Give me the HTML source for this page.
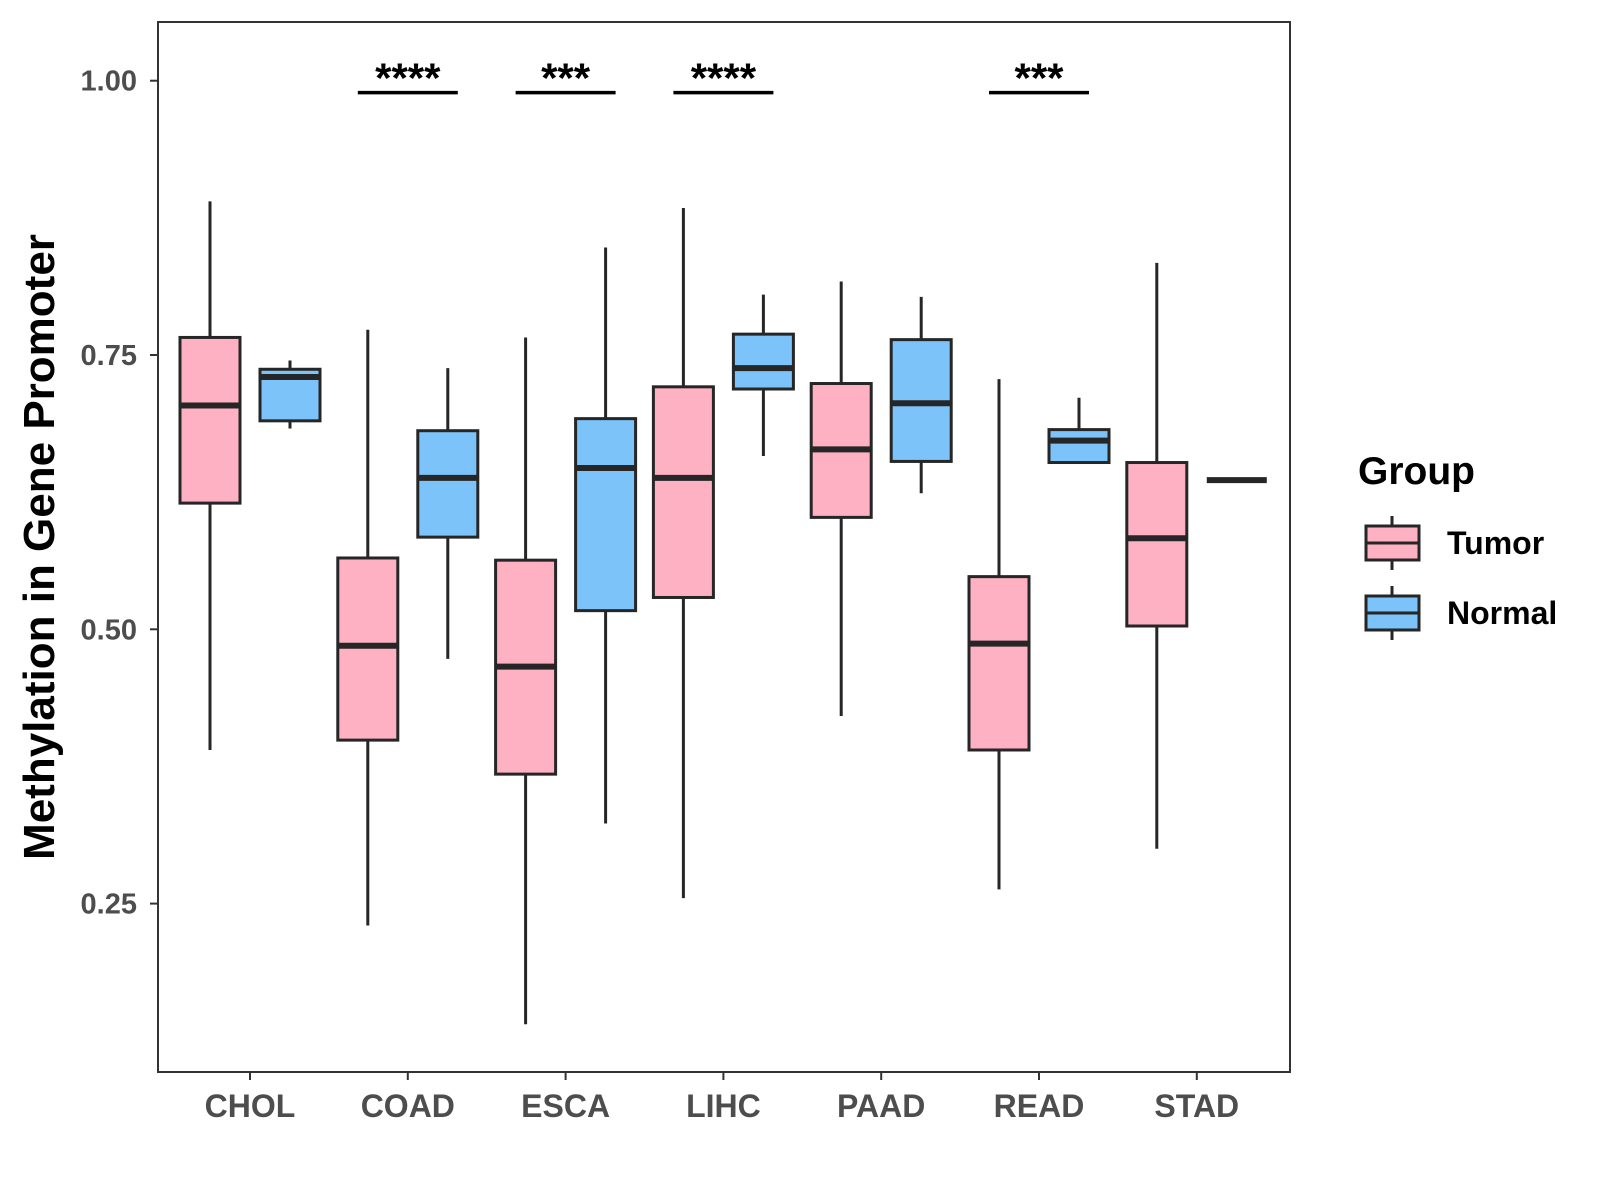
<!DOCTYPE html>
<html><head><meta charset="utf-8"><style>
html,body{margin:0;padding:0;background:#fff;width:1600px;height:1200px;overflow:hidden}
svg{display:block}
text{font-family:"Liberation Sans",Arial,sans-serif;font-weight:bold}
</style></head><body>
<svg id="chart" width="1600" height="1200" xmlns="http://www.w3.org/2000/svg"></svg>
<script>
const categories=["CHOL","COAD","ESCA","LIHC","PAAD","READ","STAD"];
// [lower whisker, Q1, median, Q3, upper whisker]
const tumorStats=[[0.390,0.615,0.704,0.766,0.890],[0.230,0.399,0.485,0.565,0.773],[0.140,0.368,0.466,0.563,0.766],[0.255,0.529,0.638,0.721,0.884],[0.421,0.602,0.664,0.724,0.817],[0.263,0.390,0.487,0.548,0.728],[0.300,0.503,0.583,0.652,0.834]];
const normalStats=[[0.683,0.690,0.730,0.737,0.745],[0.473,0.584,0.638,0.681,0.738],[0.323,0.517,0.647,0.692,0.848],[0.658,0.719,0.738,0.769,0.805],[0.624,0.653,0.706,0.764,0.803],[0.652,0.652,0.672,0.682,0.711],[0.636,0.636,0.636,0.636,0.636]];
const yTicks=[0.25,0.50,0.75,1.00];
const yTickLabels=["0.25","0.50","0.75","1.00"];
const sigCats=["COAD","ESCA","LIHC","READ"];
const sigLabels=["****","***","****","***"];
const sigY=0.990;

const svg=document.getElementById('chart');
const NS='http://www.w3.org/2000/svg';
const L=158,T=22,R=1290,B=1072;
const y=v=>80.7+(1-v)*1097.2;
const x=i=>250+i*157.8;
const BW=60, OFF=40, col="#262626";
function el(tag,attrs,parent){const e=document.createElementNS(NS,tag);for(const k in attrs)e.setAttribute(k,attrs[k]);(parent||svg).appendChild(e);return e;}

const panel=el('rect',{x:L,y:T,width:R-L,height:B-T,fill:'#fff',stroke:'#333','stroke-width':2});



yTicks.forEach((v,i)=>{
  const g=el('g',{});
  
  
  el('line',{x1:L-8,x2:L,y1:y(v),y2:y(v),stroke:'#333','stroke-width':2},g);
  const t=el('text',{x:L-21,y:y(v)+10,'text-anchor':'end','font-size':29,fill:'#4d4d4d'},g);
  t.textContent=yTickLabels[i];
});
categories.forEach((c,i)=>{
  const g=el('g',{});
  
  
  el('line',{x1:x(i),x2:x(i),y1:B,y2:B+8,stroke:'#333','stroke-width':2},g);
  const t=el('text',{x:x(i),y:B+45,'text-anchor':'middle','font-size':32,fill:'#4d4d4d'},g);
  t.textContent=c;
});
const yt=el('text',{x:0,y:0,transform:'translate(54,'+((T+B)/2)+') rotate(-90)','text-anchor':'middle','font-size':44,fill:'#000'});


yt.textContent='Methylation in Gene Promoter';

function drawBox(s,cx,fill,name){
  const g=el('g',{});
  
  
  el('line',{x1:cx,x2:cx,y1:y(s[0]),y2:y(s[4]),stroke:col,'stroke-width':3},g);
  el('rect',{x:cx-BW/2,y:y(s[3]),width:BW,height:y(s[1])-y(s[3]),fill:fill,stroke:col,'stroke-width':3},g);
  el('line',{x1:cx-BW/2,x2:cx+BW/2,y1:y(s[2]),y2:y(s[2]),stroke:col,'stroke-width':6},g);
}
categories.forEach((c,i)=>{
  drawBox(tumorStats[i],x(i)-OFF,'#FDB1C3','box-tumor-'+c.toLowerCase());
  drawBox(normalStats[i],x(i)+OFF,'#7BC3F8','box-normal-'+c.toLowerCase());
});
sigCats.forEach((c,k)=>{
  const i=categories.indexOf(c);
  const g=el('g',{});
  
  
  el('line',{x1:x(i)-50,x2:x(i)+50,y1:y(sigY)+1,y2:y(sigY)+1,stroke:'#000','stroke-width':3.5},g);
  const t=el('text',{x:x(i),y:y(sigY)+1,'text-anchor':'middle','font-size':42,fill:'#000'},g);
  t.textContent=sigLabels[k];
});
// legend
const lg=el('g',{});


const lt=el('text',{x:1358,y:484,'font-size':39,fill:'#000'},lg);
lt.textContent='Group';
[['Tumor','#FDB1C3',543],['Normal','#7BC3F8',613]].forEach(([n,f,cy])=>{
  const g=el('g',{},lg);
  
  
  el('line',{x1:1392,x2:1392,y1:cy-27,y2:cy+27,stroke:col,'stroke-width':3},g);
  el('rect',{x:1366,y:cy-17,width:53,height:34,fill:f,stroke:col,'stroke-width':3},g);
  el('line',{x1:1366,x2:1419,y1:cy,y2:cy,stroke:col,'stroke-width':3},g);
  const t=el('text',{x:1447,y:cy+11,'font-size':32,fill:'#000'},g);
  t.textContent=n;
});
</script>
</body></html>
